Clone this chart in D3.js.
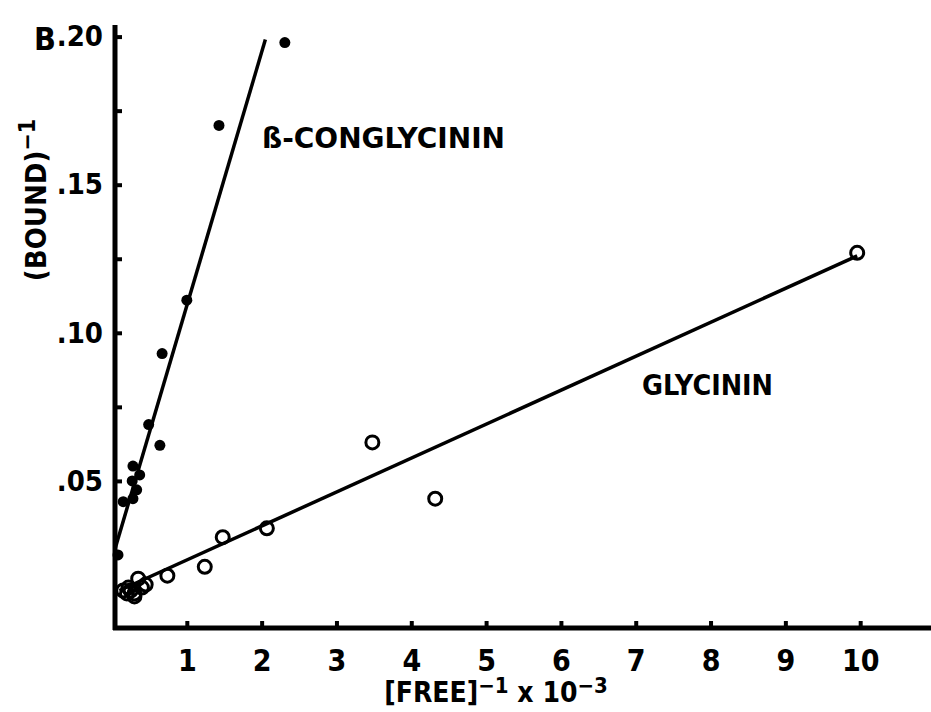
<!DOCTYPE html>
<html>
<head>
<meta charset="utf-8">
<script src="https://cdn.jsdelivr.net/npm/d3@7"></script>
<style>
  body { margin: 0; background: #fff; }
  svg text { font-family: "DejaVu Sans", sans-serif; font-stretch: condensed; font-weight: bold; fill: #000; }
</style>
</head>
<body>
<div id="chart"></div>
<script>
// Canvas size
var svgWidth = 931;
var svgHeight = 712;

// Data: [FREE]^-1 x 10^-3 vs (BOUND)^-1
// beta-conglycinin, filled dots
var conglyX = [2.31, 1.43, 1.00, 0.67, 0.64, 0.49, 0.28, 0.37, 0.27, 0.33, 0.15, 0.28, 0.08];
var conglyY = [0.198, 0.170, 0.111, 0.093, 0.062, 0.069, 0.055, 0.052, 0.050, 0.047, 0.043, 0.044, 0.025];
// glycinin, open circles
var glyX = [9.96, 3.48, 4.32, 2.07, 1.48, 1.24, 0.74, 0.35, 0.15, 0.20, 0.25, 0.30, 0.40, 0.30, 0.22, 0.45];
var glyY = [0.127, 0.063, 0.044, 0.034, 0.031, 0.021, 0.018, 0.017, 0.013, 0.012, 0.013, 0.012, 0.014, 0.011, 0.014, 0.015];

// fitted lines, end points
var conglyLineX = [0.04, 2.05];
var conglyLineY = [0.027, 0.199];
var glyLineX = [0.10, 9.96];
var glyLineY = [0.013, 0.126];

// ticks
var xTicks = [1, 2, 3, 4, 5, 6, 7, 8, 9, 10];
var yTicks = [0.025, 0.05, 0.075, 0.10, 0.125, 0.15, 0.175, 0.20];
var yLabels = {"0.05": ".05", "0.1": ".10", "0.15": ".15", "0.2": ".20"};

var svg = d3.select("#chart")
  .append("svg")
  .attr("width", svgWidth)
  .attr("height", svgHeight);

// scales
var xScale = d3.scaleLinear()
  .domain([0, 11])
  .range([112, 935]);

var yScale = d3.scaleLinear()
  .domain([0, 0.2])
  .range([629, 36.6]);

var axisX0 = 115;   // y axis position (px)
var axisY0 = 628;   // x axis position (px)

// x axis, ticks point up into the plot
var bottomAxis = d3.axisBottom(xScale)
  .tickValues(xTicks)
  .tickSizeInner(-7)
  .tickSizeOuter(0)
  .tickPadding(22)
  .tickFormat(d3.format("d"));

var xAxisG = svg.append("g")
  .attr("transform", `translate(0, ${axisY0})`)
  .call(bottomAxis);
xAxisG.select(".domain").remove();
xAxisG.append("line")
  .attr("x1", axisX0 - 2).attr("x2", svgWidth)
  .attr("y1", 0).attr("y2", 0)
  .attr("stroke", "#000").attr("stroke-width", 5);
xAxisG.selectAll(".tick line").attr("stroke", "#000").attr("stroke-width", 4);
xAxisG.selectAll(".tick text")
  .attr("font-size", 30)
  .attr("fill", "#000")
  .attr("font-family", null);

// y axis, ticks point right into the plot
var leftAxis = d3.axisLeft(yScale)
  .tickValues(yTicks)
  .tickSizeInner(-7)
  .tickSizeOuter(0)
  .tickPadding(12)
  .tickFormat(d => yLabels[String(+d.toFixed(3))] || "");

var yAxisG = svg.append("g")
  .attr("transform", `translate(${axisX0}, 0)`)
  .call(leftAxis);
yAxisG.select(".domain").remove();
yAxisG.append("line")
  .attr("x1", 0).attr("x2", 0)
  .attr("y1", 25).attr("y2", axisY0 + 2)
  .attr("stroke", "#000").attr("stroke-width", 5);
yAxisG.selectAll(".tick line").attr("stroke", "#000").attr("stroke-width", 4);
yAxisG.selectAll(".tick text")
  .attr("font-size", 29)
  .attr("fill", "#000")
  .attr("font-family", null);

// fit lines
var line = d3.line()
  .x(d => xScale(d[0]))
  .y(d => yScale(d[1]));

svg.append("path")
  .datum(d3.zip(conglyLineX, conglyLineY))
  .attr("d", line)
  .attr("fill", "none")
  .attr("stroke", "#000")
  .attr("stroke-width", 3.5);

svg.append("path")
  .datum(d3.zip(glyLineX, glyLineY))
  .attr("d", line)
  .attr("fill", "none")
  .attr("stroke", "#000")
  .attr("stroke-width", 3.5);

// filled dots
svg.selectAll(".congly")
  .data(d3.zip(conglyX, conglyY))
  .enter()
  .append("circle")
  .attr("class", "congly")
  .attr("cx", d => xScale(d[0]))
  .attr("cy", d => yScale(d[1]))
  .attr("r", 5.5)
  .attr("fill", "#000");

// open circles
svg.selectAll(".gly")
  .data(d3.zip(glyX, glyY))
  .enter()
  .append("circle")
  .attr("class", "gly")
  .attr("cx", d => xScale(d[0]))
  .attr("cy", d => yScale(d[1]))
  .attr("r", 6.5)
  .attr("fill", "none")
  .attr("stroke", "#000")
  .attr("stroke-width", 3);

// series labels
svg.append("text")
  .attr("x", 262)
  .attr("y", 148)
  .attr("font-size", 29)
  .attr("textLength", 243)
  .attr("lengthAdjust", "spacingAndGlyphs")
  .text("ß-CONGLYCININ");

svg.append("text")
  .attr("x", 642)
  .attr("y", 395)
  .attr("font-size", 29)
  .attr("textLength", 131)
  .attr("lengthAdjust", "spacingAndGlyphs")
  .text("GLYCININ");

// panel letter
svg.append("text")
  .attr("x", 34)
  .attr("y", 50)
  .attr("font-size", 32)
  .text("B");

// axis titles
var yTitle = svg.append("text")
  .attr("transform", "translate(46, 200) rotate(-90)")
  .attr("text-anchor", "middle")
  .attr("font-size", 29);
yTitle.append("tspan").text("(BOUND)");
yTitle.append("tspan").attr("dy", -11).attr("font-size", 23).text("\u22121");

var xTitle = svg.append("text")
  .attr("x", 496)
  .attr("y", 702)
  .attr("text-anchor", "middle")
  .attr("font-size", 28);
xTitle.append("tspan").text("[FREE]");
xTitle.append("tspan").attr("dy", -9).attr("font-size", 22).text("\u22121");
xTitle.append("tspan").attr("dy", 9).text(" x 10");
xTitle.append("tspan").attr("dy", -9).attr("font-size", 22).text("\u22123");
</script>
</body>
</html>
